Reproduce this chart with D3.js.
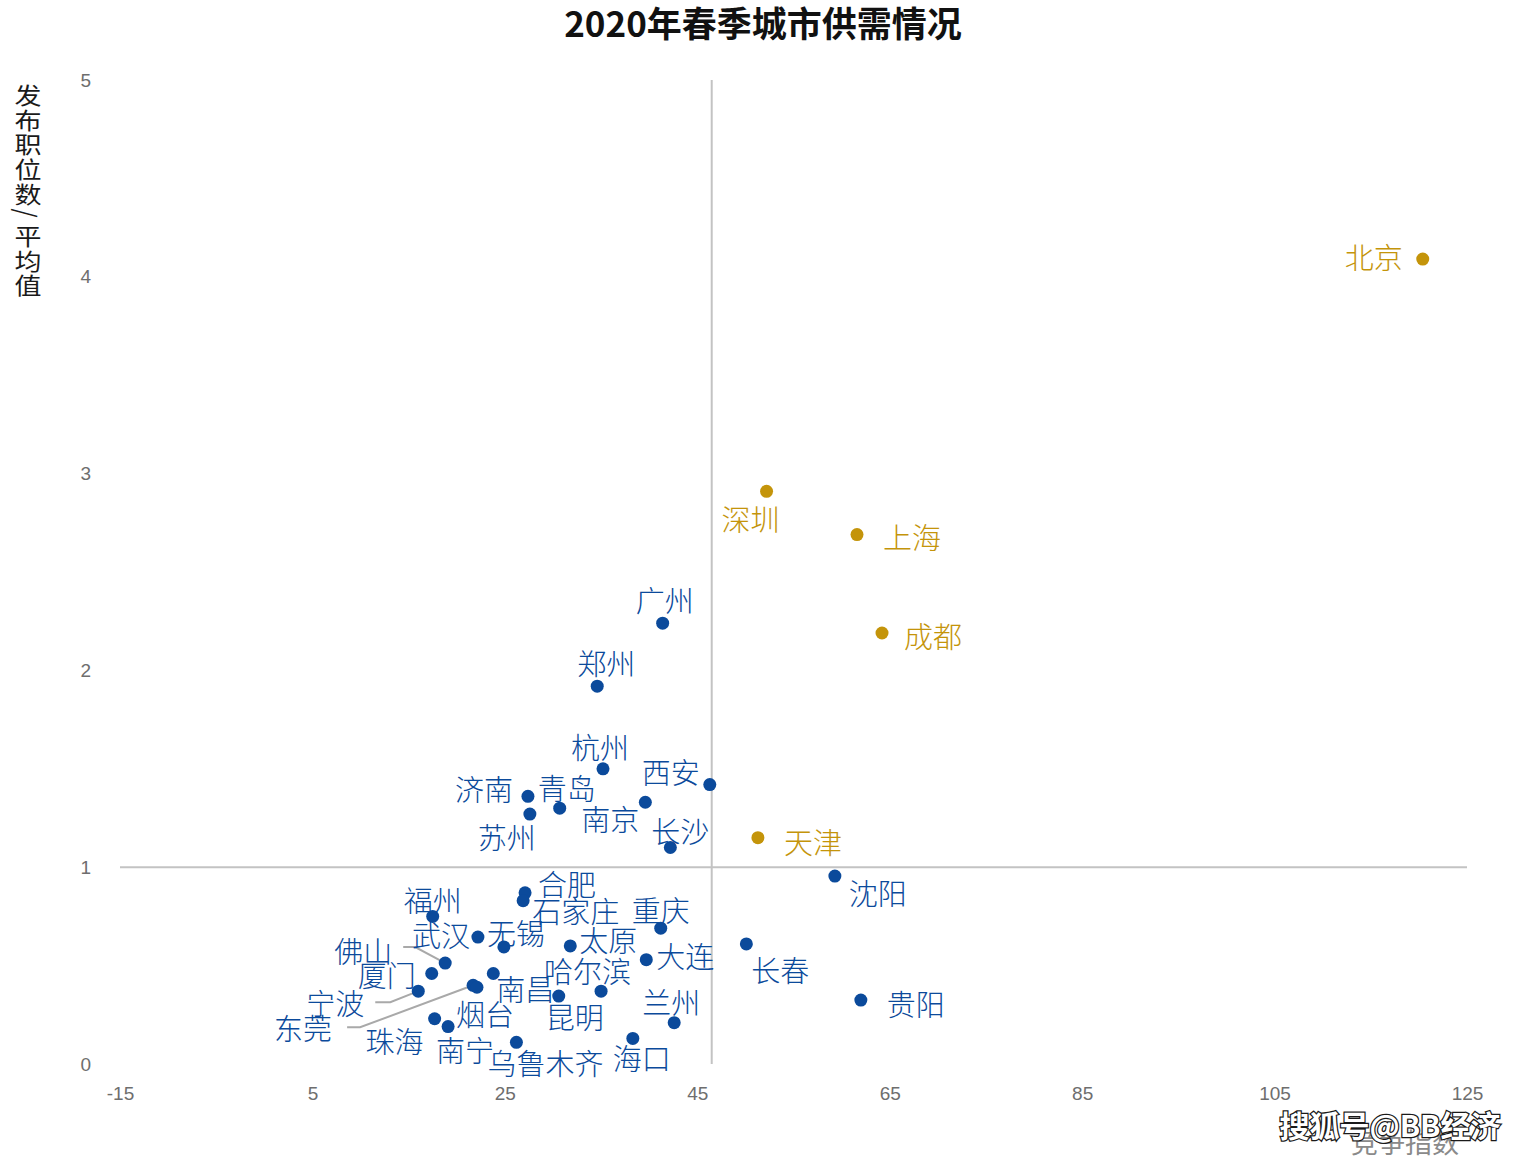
<!DOCTYPE html>
<html>
<head>
<meta charset="utf-8">
<script src="https://cdn.jsdelivr.net/npm/d3@7"></script>
<style>
  html, body { margin: 0; padding: 0; background: #fff; }
  svg { display: block; }
  .tick-text { font-family: "Liberation Sans", Arial, sans-serif; font-size: 19px; fill: #6e6e6e; }
  .city-label { font-family: "Noto Sans CJK SC", sans-serif; font-size: 29px; font-weight: 300; }
</style>
</head>
<body>
<div id="chart"></div>
<script>
const CITIES = [
  "北京", "深圳", "上海", "成都", "天津",
  "广州", "郑州", "杭州", "西安", "济南", "青岛", "苏州", "南京", "长沙", "沈阳",
  "合肥", "石家庄", "福州", "重庆", "武汉", "长春", "太原", "无锡", "佛山", "大连",
  "厦门", "南昌", "哈尔滨", "宁波", "东莞", "烟台", "昆明", "兰州", "贵阳", "珠海",
  "南宁", "乌鲁木齐", "海口",
];
const COMPETITION = [
  120.4, 52.2, 61.6, 64.2, 51.3,
  41.4, 34.6, 35.2, 46.3, 27.4, 30.7, 27.6, 39.6, 42.2, 59.3,
  27.1, 26.9, 17.5, 41.2, 22.2, 50.1, 31.8, 24.9, 18.8, 39.7,
  17.4, 23.8, 35.0, 16.0, 21.7, 22.1, 30.6, 42.6, 62.0, 17.7,
  19.1, 26.2, 38.3,
];
const POSTINGS = [
  4.09, 2.91, 2.69, 2.19, 1.15,
  2.24, 1.92, 1.50, 1.42, 1.36, 1.30, 1.27, 1.33, 1.10, 0.955,
  0.87, 0.83, 0.75, 0.69, 0.645, 0.61, 0.60, 0.595, 0.513, 0.53,
  0.46, 0.46, 0.37, 0.37, 0.40, 0.39, 0.345, 0.21, 0.325, 0.23,
  0.19, 0.11, 0.13,
];
const HOT_CITIES = ["北京", "深圳", "上海", "成都", "天津"];
const X_TICKS = [-15, 5, 25, 45, 65, 85, 105, 125];
const Y_TICKS = [0, 1, 2, 3, 4, 5];
const AVG_COMPETITION = 46.5;
const AVG_POSTINGS = 1;

const TITLE = "2020年春季城市供需情况";
const Y_TITLE = "发布职位数/平均值";
const X_TITLE = "竞争指数";
const WATERMARK = "搜狐号@BB经济";

// label offsets from the dot (left edge, vertical centre), px
const LABEL_POS = {
  "北京": [-78, -3], "深圳": [-45, 27], "上海": [26, 1], "成都": [22, 2], "天津": [26, 3],
  "广州": [-27, -24], "郑州": [-20, -24], "杭州": [-32, -23], "西安": [-68, -14],
  "济南": [-73, -8], "青岛": [-22, -21], "苏州": [-52, 22], "南京": [-64, 16],
  "长沙": [-19, -18], "沈阳": [14, 16], "合肥": [13, -10], "石家庄": [9, 9],
  "福州": [-29, -17], "重庆": [-29, -19], "武汉": [-66, -3], "长春": [5, 25],
  "太原": [9, -7], "无锡": [-17, -15], "佛山": [-111, -13], "大连": [10, -5],
  "厦门": [-74, 1], "南昌": [3, 15], "哈尔滨": [-57, -21], "宁波": [-112, 11],
  "东莞": [-199, 42], "烟台": [-21, 26], "昆明": [-13, 20], "兰州": [-32, -22],
  "贵阳": [26, 3], "珠海": [-69, 21], "南宁": [-12, 22], "乌鲁木齐": [-29, 20],
  "海口": [-20, 19],
};

// leader lines: bend points relative to the dot
const LEADERS = {
  "佛山": [[-42, -16], [-30, -16], [0, 0]],
  "宁波": [[-43, 11], [-28, 11], [0, 0]],
  "东莞": [[-126, 42], [-113, 42], [0, 0]],
};

const BLUE = "#0b4a9b";
const GOLD = "#c4940a";

function renderYTitle(svg) {
  const g = svg
    .append("g")
    .style("font-family", '"Noto Sans CJK SC", sans-serif')
    .style("font-size", "27px")
    .style("fill", "#1a1a1a");

  let cy = 94;
  Array.from(Y_TITLE).forEach((ch) => {
    if (ch === "/") {
      cy -= 4;
      g.append("text")
        .attr("text-anchor", "middle")
        .attr("dominant-baseline", "central")
        .attr("transform", `translate(28, ${cy}) rotate(90) scale(0.86, 1)`)
        .text(ch);
      cy += 22;
    } else {
      g.append("text")
        .attr("text-anchor", "middle")
        .attr("dominant-baseline", "central")
        .attr("transform", `translate(28, ${cy}) scale(1, 0.86)`)
        .text(ch);
      cy += 24.6;
    }
  });
}

function renderChart() {
  const width = 1538;
  const height = 1156;
  const svg = d3.select("#chart").append("svg").attr("width", width).attr("height", height);

  const x = d3.scaleLinear().domain([-15, 125]).range([120, 1467]);
  const y = d3.scaleLinear().domain([0, 5]).range([1064, 80]);

  svg
    .append("text")
    .attr("x", 763)
    .attr("y", 21)
    .attr("text-anchor", "middle")
    .attr("dominant-baseline", "central")
    .style("font-family", '"Noto Sans CJK SC", sans-serif')
    .style("font-size", "35px")
    .style("font-weight", "700")
    .style("fill", "#111")
    .text(TITLE);

  svg
    .append("g")
    .attr("transform", "translate(0, 1086)")
    .call(d3.axisBottom(x).tickValues(X_TICKS).tickSize(0).tickPadding(0).tickFormat((d) => String(d)))
    .call((g) => g.select(".domain").remove())
    .call((g) => g.selectAll("text").attr("class", "tick-text").attr("dy", "0.71em"));

  svg
    .append("g")
    .attr("transform", "translate(91, 0)")
    .call(d3.axisLeft(y).tickValues(Y_TICKS).tickSize(0).tickPadding(0).tickFormat((d) => String(d)))
    .call((g) => g.select(".domain").remove())
    .call((g) => g.selectAll("text").attr("class", "tick-text"));

  // crossing axes at the averages
  svg
    .append("line")
    .attr("x1", x(-15))
    .attr("x2", x(125))
    .attr("y1", y(AVG_POSTINGS))
    .attr("y2", y(AVG_POSTINGS))
    .attr("stroke", "#c3c3c3")
    .attr("stroke-width", 2);

  svg
    .append("line")
    .attr("x1", x(AVG_COMPETITION))
    .attr("x2", x(AVG_COMPETITION))
    .attr("y1", y(0))
    .attr("y2", y(5))
    .attr("stroke", "#c3c3c3")
    .attr("stroke-width", 2);

  renderYTitle(svg);

  const points = CITIES.map((city, i) => ({
    city,
    x: COMPETITION[i],
    y: POSTINGS[i],
    color: HOT_CITIES.includes(city) ? GOLD : BLUE,
  }));

  svg
    .append("g")
    .selectAll("polyline")
    .data(points.filter((d) => LEADERS[d.city]))
    .join("polyline")
    .attr("points", (d) => LEADERS[d.city].map(([dx, dy]) => `${x(d.x) + dx},${y(d.y) + dy}`).join(" "))
    .attr("fill", "none")
    .attr("stroke", "#a9a9a9")
    .attr("stroke-width", 2);

  svg
    .append("g")
    .selectAll("circle")
    .data(points)
    .join("circle")
    .attr("cx", (d) => x(d.x))
    .attr("cy", (d) => y(d.y))
    .attr("r", 6.5)
    .attr("fill", (d) => d.color);

  svg
    .append("g")
    .selectAll("text")
    .data(points)
    .join("text")
    .attr("class", "city-label")
    .attr("x", (d) => x(d.x) + LABEL_POS[d.city][0])
    .attr("y", (d) => y(d.y) + LABEL_POS[d.city][1])
    .attr("dominant-baseline", "central")
    .style("fill", (d) => d.color)
    .text((d) => d.city);

  svg
    .append("text")
    .attr("x", 1405)
    .attr("y", 1141)
    .attr("text-anchor", "middle")
    .attr("dominant-baseline", "central")
    .style("font-family", '"Noto Sans CJK SC", sans-serif')
    .style("font-size", "27px")
    .style("fill", "#8a8a8a")
    .text(X_TITLE);

  svg
    .append("text")
    .attr("x", 1390)
    .attr("y", 1124)
    .attr("text-anchor", "middle")
    .attr("dominant-baseline", "central")
    .style("font-family", '"Noto Sans CJK SC", sans-serif')
    .style("font-size", "30px")
    .style("font-weight", "700")
    .style("fill", "#fff")
    .style("stroke", "#1a1a1a")
    .style("stroke-width", 2.5)
    .style("paint-order", "stroke")
    .text(WATERMARK);
}

renderChart();
</script>
</body>
</html>
